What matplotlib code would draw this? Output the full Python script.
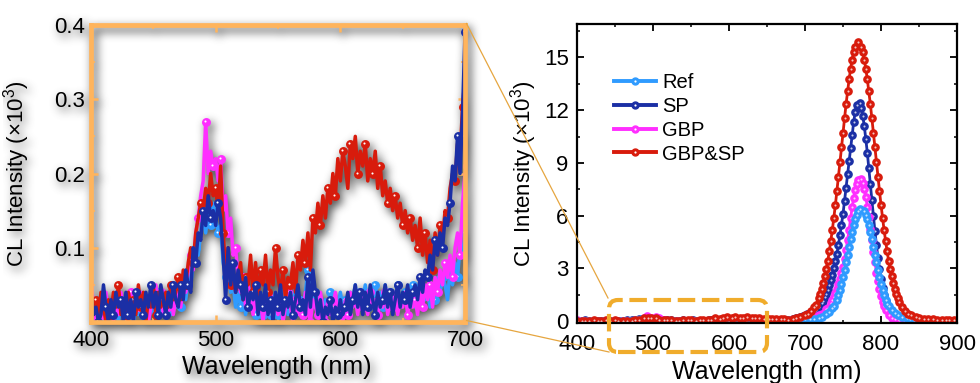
import numpy as np
import matplotlib
matplotlib.use("Agg")
import matplotlib.pyplot as plt
import matplotlib.transforms as mtransforms
from matplotlib.patches import FancyBboxPatch
from matplotlib.lines import Line2D
from matplotlib.legend_handler import HandlerTuple
from matplotlib.ticker import MultipleLocator

plt.rcParams["font.family"] = ["Liberation Sans", "DejaVu Sans"]
plt.rcParams["mathtext.default"] = "regular"

# ---------------------------------------------------------------- data
# CL spectra, intensity in units of 10^3 counts, sampled every 2 nm
wavelength = np.arange(400, 901, 2)

ref = [
    0.02, 0.00, 0.01, 0.03, 0.01, 0.00, 0.02, 0.01, 0.03, 0.01,
    0.02, 0.00, 0.03, 0.01, 0.02, 0.01, 0.03, 0.00, 0.02, 0.01,
    0.03, 0.01, 0.02, 0.00, 0.03, 0.01, 0.02, 0.04, 0.01, 0.03,
    0.02, 0.04, 0.01, 0.03, 0.02, 0.04, 0.02, 0.05, 0.03, 0.06,
    0.05, 0.08, 0.10, 0.09, 0.12, 0.14, 0.12, 0.15, 0.13, 0.16,
    0.14, 0.12, 0.13, 0.08, 0.06, 0.08, 0.04, 0.05, 0.02, 0.04,
    0.02, 0.04, 0.01, 0.03, 0.02, 0.03, 0.01, 0.02, 0.04, 0.01,
    0.02, 0.03, 0.01, 0.02, 0.04, 0.01, 0.03, 0.02, 0.04, 0.01,
    0.03, 0.02, 0.05, 0.01, 0.03, 0.02, 0.04, 0.07, 0.03, 0.02,
    0.04, 0.02, 0.03, 0.01, 0.03, 0.02, 0.04, 0.01, 0.03, 0.02,
    0.04, 0.02, 0.03, 0.01, 0.04, 0.03, 0.05, 0.02, 0.04, 0.03,
    0.05, 0.02, 0.04, 0.03, 0.05, 0.03, 0.04, 0.02, 0.05, 0.03,
    0.04, 0.02, 0.03, 0.05, 0.02, 0.03, 0.04, 0.02, 0.03, 0.05,
    0.02, 0.04, 0.03, 0.05, 0.03, 0.04, 0.02, 0.05, 0.03, 0.06,
    0.04, 0.06, 0.05, 0.03, 0.07, 0.05, 0.08, 0.06, 0.10, 0.09,
    0.12, 0.12, 0.12, 0.12, 0.13, 0.14, 0.15, 0.16, 0.18, 0.20,
    0.23, 0.26, 0.30, 0.35, 0.40, 0.46, 0.53, 0.62, 0.73, 0.88,
    0.98, 1.21, 1.48, 1.79, 2.13, 2.51, 2.92, 3.34, 3.79, 4.23,
    4.67, 5.08, 5.46, 5.79, 6.06, 6.26, 6.39, 6.43, 6.39, 6.26,
    6.06, 5.79, 5.46, 5.08, 4.67, 4.23, 3.79, 3.34, 2.92, 2.51,
    2.13, 1.79, 1.48, 1.21, 0.98, 0.88, 0.73, 0.62, 0.53, 0.46,
    0.40, 0.35, 0.30, 0.26, 0.23, 0.20, 0.18, 0.16, 0.14, 0.12,
    0.10, 0.09, 0.08, 0.07, 0.06, 0.06, 0.05, 0.05, 0.04, 0.05,
    0.04, 0.04, 0.05, 0.04, 0.03, 0.04, 0.04, 0.03, 0.04, 0.03,
    0.03, 0.04, 0.03, 0.03, 0.02, 0.03, 0.03, 0.02, 0.03, 0.03,
    0.02,
]

sp = [
    0.04, 0.01, 0.02, 0.00, 0.01, 0.05, 0.02, 0.00, 0.03, 0.01,
    0.04, 0.02, 0.03, 0.00, 0.04, 0.01, 0.03, 0.00, 0.04, 0.02,
    0.03, 0.01, 0.04, 0.02, 0.05, 0.02, 0.04, 0.01, 0.05, 0.03,
    0.01, 0.04, 0.02, 0.05, 0.03, 0.02, 0.05, 0.03, 0.07, 0.05,
    0.04, 0.10, 0.08, 0.12, 0.11, 0.15, 0.13, 0.17, 0.14, 0.15,
    0.13, 0.16, 0.14, 0.09, 0.03, 0.10, 0.05, 0.08, 0.04, 0.07,
    0.05, 0.03, 0.06, 0.02, 0.04, 0.03, 0.05, 0.01, 0.04, 0.02,
    0.05, 0.01, 0.03, 0.00, 0.04, 0.02, 0.05, 0.01, 0.03, 0.02,
    0.04, 0.01, 0.03, 0.05, 0.02, 0.03, 0.01, 0.06, 0.02, 0.07,
    0.04, 0.01, 0.03, 0.00, 0.02, 0.01, 0.03, 0.00, 0.02, 0.01,
    0.03, 0.01, 0.02, 0.04, 0.01, 0.03, 0.05, 0.02, 0.04, 0.01,
    0.04, 0.02, 0.05, 0.03, 0.01, 0.04, 0.02, 0.03, 0.05, 0.02,
    0.04, 0.01, 0.03, 0.05, 0.02, 0.04, 0.03, 0.05, 0.02, 0.04,
    0.05, 0.03, 0.06, 0.04, 0.07, 0.06, 0.09, 0.07, 0.11, 0.09,
    0.12, 0.10, 0.14, 0.13, 0.16, 0.21, 0.19, 0.25, 0.20, 0.28,
    0.39, 0.41, 0.43, 0.46, 0.49, 0.53, 0.58, 0.65, 0.72, 0.80,
    0.90, 1.02, 1.17, 1.35, 1.55, 1.80, 2.05, 2.35, 2.65, 3.00,
    3.40, 3.85, 4.35, 4.90, 5.50, 6.10, 6.85, 7.60, 8.35, 9.10,
    9.85, 10.60, 11.30, 11.90, 12.30, 12.47, 12.38, 12.11, 11.67, 11.09,
    10.37, 9.58, 8.70, 7.79, 6.88, 5.99, 5.13, 4.33, 3.60, 2.96,
    2.38, 1.90, 1.50, 1.16, 0.88, 0.66, 0.49, 0.38, 0.30, 0.24,
    0.19, 0.16, 0.13, 0.11, 0.10, 0.09, 0.08, 0.08, 0.07, 0.07,
    0.06, 0.07, 0.06, 0.06, 0.05, 0.06, 0.05, 0.05, 0.06, 0.05,
    0.05, 0.04, 0.05, 0.05, 0.04, 0.05, 0.04, 0.04, 0.05, 0.04,
    0.04, 0.05, 0.04, 0.04, 0.03, 0.04, 0.04, 0.03, 0.04, 0.03,
    0.04,
]

gbp = [
    0.06, 0.02, 0.00, 0.03, 0.01, 0.02, 0.04, 0.01, 0.03, 0.00,
    0.03, 0.01, 0.04, 0.02, 0.00, 0.02, 0.04, 0.01, 0.03, 0.02,
    0.04, 0.01, 0.03, 0.00, 0.02, 0.03, 0.05, 0.02, 0.04, 0.01,
    0.03, 0.02, 0.04, 0.01, 0.03, 0.04, 0.02, 0.05, 0.04, 0.07,
    0.09, 0.07, 0.12, 0.14, 0.17, 0.19, 0.27, 0.20, 0.23, 0.21,
    0.22, 0.19, 0.22, 0.15, 0.17, 0.12, 0.14, 0.09, 0.10, 0.06,
    0.04, 0.06, 0.02, 0.05, 0.03, 0.01, 0.04, 0.02, 0.03, 0.00,
    0.03, 0.01, 0.04, 0.02, 0.03, 0.01, 0.03, 0.00, 0.02, 0.04,
    0.02, 0.00, 0.03, 0.01, 0.03, 0.01, 0.04, 0.02, 0.00, 0.03,
    0.02, 0.01, 0.04, 0.02, 0.00, 0.03, 0.01, 0.02, 0.04, 0.01,
    0.02, 0.00, 0.03, 0.01, 0.04, 0.02, 0.03, 0.01, 0.04, 0.02,
    0.03, 0.01, 0.04, 0.02, 0.03, 0.01, 0.03, 0.02, 0.04, 0.01,
    0.03, 0.02, 0.04, 0.01, 0.03, 0.02, 0.04, 0.01, 0.03, 0.02,
    0.03, 0.01, 0.04, 0.02, 0.05, 0.03, 0.05, 0.02, 0.06, 0.04,
    0.07, 0.05, 0.08, 0.06, 0.09, 0.06, 0.10, 0.12, 0.09, 0.16,
    0.20, 0.21, 0.22, 0.23, 0.24, 0.25, 0.27, 0.29, 0.32, 0.35,
    0.39, 0.44, 0.50, 0.57, 0.67, 0.78, 0.90, 1.04, 1.20, 1.39,
    1.60, 1.83, 2.10, 2.40, 2.72, 3.10, 3.55, 4.05, 4.60, 5.20,
    5.85, 6.47, 7.02, 7.48, 7.83, 8.05, 8.13, 8.06, 7.85, 7.50,
    7.06, 6.51, 5.90, 5.26, 4.60, 3.96, 3.34, 2.77, 2.26, 1.81,
    1.42, 1.10, 0.84, 0.63, 0.46, 0.33, 0.24, 0.18, 0.14, 0.11,
    0.09, 0.08, 0.07, 0.06, 0.06, 0.05, 0.05, 0.04, 0.05, 0.04,
    0.04, 0.05, 0.04, 0.03, 0.04, 0.04, 0.03, 0.04, 0.03, 0.04,
    0.03, 0.04, 0.03, 0.03, 0.04, 0.03, 0.03, 0.04, 0.03, 0.03,
    0.03, 0.04, 0.03, 0.02, 0.03, 0.03, 0.02, 0.03, 0.03, 0.02,
    0.03,
]

gbp_sp = [
    0.02, 0.01, 0.03, 0.00, 0.04, 0.02, 0.00, 0.03, 0.01, 0.04,
    0.02, 0.05, 0.01, 0.03, 0.00, 0.04, 0.02, 0.03, 0.01, 0.05,
    0.02, 0.04, 0.00, 0.03, 0.02, 0.05, 0.01, 0.04, 0.02, 0.03,
    0.04, 0.02, 0.05, 0.03, 0.04, 0.06, 0.03, 0.07, 0.05, 0.08,
    0.10, 0.08, 0.12, 0.14, 0.16, 0.15, 0.18, 0.16, 0.20, 0.17,
    0.18, 0.15, 0.21, 0.12, 0.07, 0.10, 0.05, 0.07, 0.04, 0.06,
    0.08, 0.03, 0.06, 0.05, 0.09, 0.04, 0.08, 0.03, 0.07, 0.05,
    0.09, 0.04, 0.07, 0.05, 0.10, 0.06, 0.04, 0.07, 0.03, 0.06,
    0.05, 0.08, 0.04, 0.09, 0.07, 0.11, 0.08, 0.12, 0.07, 0.14,
    0.12, 0.16, 0.13, 0.17, 0.14, 0.18, 0.16, 0.20, 0.17, 0.22,
    0.19, 0.23, 0.21, 0.18, 0.24, 0.22, 0.25, 0.20, 0.23, 0.21,
    0.24, 0.19, 0.22, 0.20, 0.23, 0.18, 0.21, 0.17, 0.19, 0.16,
    0.18, 0.15, 0.17, 0.14, 0.16, 0.13, 0.15, 0.12, 0.14, 0.11,
    0.13, 0.10, 0.14, 0.09, 0.12, 0.08, 0.11, 0.07, 0.12, 0.09,
    0.13, 0.11, 0.15, 0.14, 0.18, 0.20, 0.19, 0.24, 0.22, 0.29,
    0.33, 0.38, 0.44, 0.50, 0.58, 0.68, 0.80, 0.94, 1.10, 1.30,
    1.55, 1.83, 2.17, 2.55, 2.97, 3.45, 3.98, 4.57, 5.20, 5.89,
    6.62, 7.41, 8.21, 9.04, 9.88, 10.72, 11.54, 12.34, 13.07, 13.75,
    14.36, 14.88, 15.30, 15.60, 15.79, 15.85, 15.79, 15.60, 15.30, 14.88,
    14.36, 13.75, 13.07, 12.34, 11.54, 10.72, 9.88, 9.04, 8.21, 7.41,
    6.62, 5.89, 5.20, 4.57, 3.98, 3.45, 2.97, 2.55, 2.17, 1.83,
    1.55, 1.30, 1.10, 0.94, 0.80, 0.68, 0.58, 0.50, 0.44, 0.38,
    0.33, 0.29, 0.26, 0.23, 0.21, 0.19, 0.17, 0.16, 0.15, 0.14,
    0.13, 0.12, 0.12, 0.11, 0.11, 0.10, 0.10, 0.09, 0.10, 0.09,
    0.08, 0.09, 0.08, 0.08, 0.07, 0.08, 0.07, 0.07, 0.06, 0.07,
    0.06,
]

series_names = ["Ref", "SP", "GBP", "GBP&SP"]
series_colors = ["#2F9BFF", "#1B2FA5", "#FF2EFF", "#D81B0C"]
series = [ref, sp, gbp, gbp_sp]

# ---------------------------------------------------------------- layout
W, H, DPI = 9.8, 3.83, 100
PX_W, PX_H = 980, 383
INSET_RECT = [91 / PX_W, 61 / PX_H, 374 / PX_W, 297 / PX_H]
MAIN_RECT = [577 / PX_W, 60 / PX_H, 380 / PX_W, 299 / PX_H]
FRAME = "#FFB45C"
ZOOM_BOX = "#F0AC2C"
YLABEL = "CL Intensity (×10$^3$)"
XLABEL = "Wavelength (nm)"
TICK_FS, XLAB_FS, YLAB_FS, LEG_FS = 16, 18, 16, 14.5


def build_inset(fig, mono=None):
    ax = fig.add_axes(INSET_RECT)
    ax.set_facecolor("none")
    hl = mtransforms.ScaledTranslation(-1 / DPI, 1 / DPI, fig.dpi_scale_trans)
    for k, i in enumerate([0, 2, 3, 1]):
        c = mono or series_colors[i]
        ax.plot(wavelength, series[i], color=c, lw=2.5, marker="o", ms=5.4,
                mfc=c, mec=c, markevery=(k, 3))
        if mono is None:
            ax.plot(wavelength, series[i], ls="none", marker="o", ms=1.5,
                    mfc="white", mec="none", markevery=(k, 3),
                    transform=ax.transData + hl)
    ax.set_xlim(400, 700)
    ax.set_ylim(0, 0.4)
    ax.set_xticks([400, 500, 600, 700])
    ax.set_yticks([0.1, 0.2, 0.3, 0.4])
    ax.xaxis.set_minor_locator(MultipleLocator(50))
    ax.yaxis.set_minor_locator(MultipleLocator(0.05))
    fc = mono or FRAME
    for s in ax.spines.values():
        s.set_color(fc)
        s.set_linewidth(3.4)
    ax.tick_params(which="both", direction="in", top=True, right=True,
                   color=fc, labelsize=TICK_FS, labelcolor="black")
    ax.tick_params(which="major", length=5, width=1.8)
    ax.tick_params(which="minor", length=3, width=1.2)
    ax.tick_params(axis="x", pad=6)
    ax.tick_params(axis="y", pad=4)
    ax.set_xlabel(XLABEL, fontsize=XLAB_FS)
    ax.set_ylabel(YLABEL, fontsize=YLAB_FS)
    ax.xaxis.set_label_coords(0.496, -0.112)
    ax.yaxis.set_label_coords(-0.157, 0.5)
    return ax


def box_blur(a, r, axis):
    pad = [(0, 0)] * a.ndim
    pad[axis] = (r + 1, r)
    p = np.pad(a, pad, mode="edge")
    c = np.cumsum(p, axis=axis)
    n = a.shape[axis]
    hi = np.take(c, np.arange(2 * r + 1, 2 * r + 1 + n), axis=axis)
    lo = np.take(c, np.arange(0, n), axis=axis)
    return (hi - lo) / (2 * r + 1)


# soft drop shadow under the inset panel
tmp = plt.figure(figsize=(W, H), dpi=DPI)
build_inset(tmp, mono="black")
tmp.canvas.draw()
buf = np.asarray(tmp.canvas.buffer_rgba()).astype(float) / 255.0
plt.close(tmp)
mask = 1.0 - buf[..., 0]
for _ in range(3):
    mask = box_blur(mask, 4, 0)
    mask = box_blur(mask, 4, 1)
dx, dy = 3, 4
shifted = np.zeros_like(mask)
shifted[dy:, dx:] = mask[:-dy, :-dx]
shadow = np.zeros(mask.shape + (4,))
shadow[..., :3] = 0.28
shadow[..., 3] = np.clip(shifted * 1.0, 0, 0.8)

# ---------------------------------------------------------------- figure
fig = plt.figure(figsize=(W, H), dpi=DPI)
fig.patch.set_facecolor("white")
fig.figimage(shadow, xo=0, yo=0, origin="upper", zorder=-1)

build_inset(fig)

ax = fig.add_axes(MAIN_RECT)
for i in [1, 2, 0, 3]:
    c = series_colors[i]
    ax.plot(wavelength, series[i], color=c, lw=2.0, marker="o", ms=5.2,
            mfc=c, mec=c, markevery=0.009)
    ax.plot(wavelength, series[i], ls="none", marker="o", ms=1.5,
            mfc="white", mec="none", alpha=0.75, markevery=0.009)
handles = []
for i in range(4):
    c = series_colors[i]
    h_line = Line2D([], [], color=c, lw=2.8, marker="o", ms=5, mfc=c, mec=c)
    h_dot = Line2D([], [], ls="none", marker="o", ms=1.6, mfc="white", mec="none")
    handles.append((h_line, h_dot))
ax.legend(handles, series_names, handler_map={tuple: HandlerTuple(ndivide=1)},
          loc="upper left", bbox_to_anchor=((614 - 577) / 380, (323 - 73) / 299),
          frameon=False, fontsize=LEG_FS, borderpad=0, borderaxespad=0,
          handlelength=2.1, handletextpad=0.3, labelspacing=0.24)

ax.set_xlim(400, 900)
ax.set_ylim(-0.1, 16.9)
ax.set_xticks([400, 500, 600, 700, 800, 900])
ax.set_yticks([0, 3, 6, 9, 12, 15])
ax.xaxis.set_minor_locator(MultipleLocator(50))
ax.yaxis.set_minor_locator(MultipleLocator(1.5))
for s in ax.spines.values():
    s.set_linewidth(1.6)
ax.tick_params(which="both", direction="in", top=True, right=True,
               labelsize=TICK_FS)
ax.tick_params(which="major", length=5, width=1.3)
ax.tick_params(which="minor", length=2.5, width=1.1)
ax.tick_params(axis="x", pad=8)
ax.tick_params(axis="y", pad=6)
ax.set_xlabel(XLABEL, fontsize=XLAB_FS)
ax.set_ylabel(YLABEL, fontsize=YLAB_FS)
ax.xaxis.set_label_coords(0.5, -0.125)
ax.yaxis.set_label_coords(-0.1, 0.5)

# zoomed window marker and connectors (pixel coordinates)
ident = mtransforms.IdentityTransform()
box = FancyBboxPatch((609, PX_H - 352), 158, 52,
                     boxstyle="round,pad=0,rounding_size=9",
                     transform=ident, fill=False, edgecolor=ZOOM_BOX,
                     linewidth=3.0, linestyle=(0, (4.2, 1.6)), zorder=5)
fig.add_artist(box)
for (x0, y0), (x1, y1) in [((466.5, 23.5), (608, 298)),
                           ((466.5, 320.5), (609, 352))]:
    fig.add_artist(Line2D([x0, x1], [PX_H - y0, PX_H - y1], transform=ident,
                          color="#E6A640", lw=0.9, zorder=6))

fig.savefig("out.png", dpi=DPI)
